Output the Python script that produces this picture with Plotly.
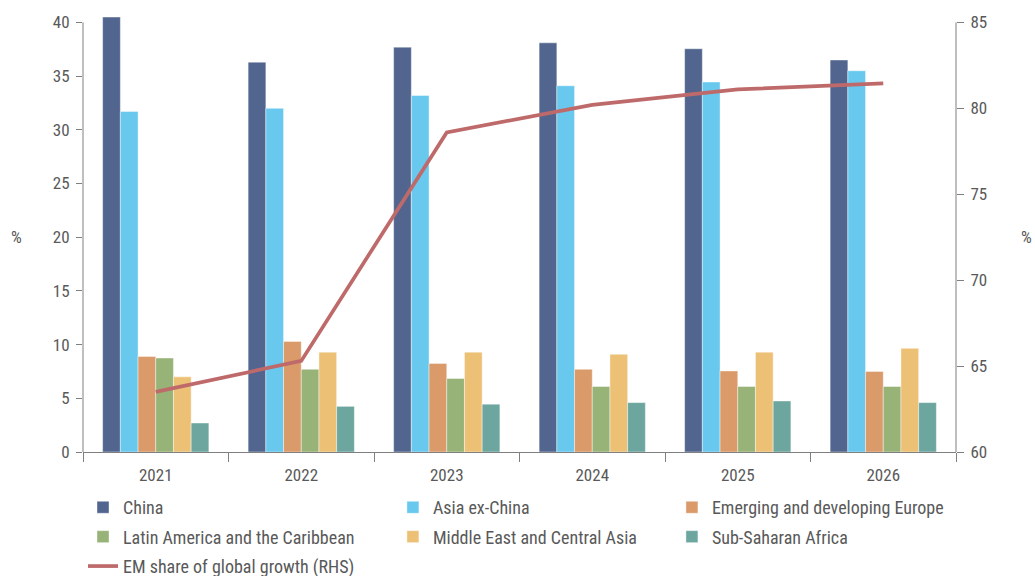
import plotly.graph_objects as go

years = ["2021", "2022", "2023", "2024", "2025", "2026"]
china = [40.5, 36.3, 37.7, 38.1, 37.55, 36.5]
asia_ex_china = [31.7, 32.0, 33.2, 34.1, 34.45, 35.5]
em_europe = [8.9, 10.3, 8.25, 7.7, 7.55, 7.5]
latam = [8.75, 7.7, 6.85, 6.1, 6.1, 6.1]
mideast_casia = [7.0, 9.3, 9.3, 9.1, 9.3, 9.65]
ssa = [2.7, 4.25, 4.45, 4.6, 4.75, 4.6]
em_share = [63.5, 65.3, 78.6, 80.2, 81.1, 81.45]

FONT = "Roboto Condensed, Roboto, sans-serif"
TXT = "#595959"
AX = "#7f7f7f"

bar_series = [
    ("China", china, "#51658f", "legend", 1),
    ("Asia ex-China", asia_ex_china, "#68c8ee", "legend2", 1),
    ("Emerging and developing Europe", em_europe, "#db9a6a", "legend3", 1),
    ("Latin America and the Caribbean", latam, "#98b377", "legend", 2),
    ("Middle East and Central Asia", mideast_casia, "#ecc176", "legend2", 2),
    ("Sub-Saharan Africa", ssa, "#6ca69f", "legend3", 2),
]

fig = go.Figure()
for name, vals, col, leg, rank in bar_series:
    fig.add_trace(go.Bar(
        x=years, y=vals, name=name, legend=leg, legendrank=rank,
        legendgroup=name,
        marker=dict(color=col, line=dict(color="rgba(255,255,255,0.7)", width=0.6)),
        yaxis="y",
    ))

fig.add_trace(go.Scatter(
    x=years, y=em_share, name="EM share of global growth (RHS)",
    mode="lines", line=dict(color="#bf6a6a", width=3.7),
    yaxis="y2", legend="legend", legendrank=3, legendgroup="em",
))

leg_common = dict(
    orientation="v", yanchor="top", xanchor="left",
    font=dict(family=FONT, size=18, color=TXT),
    bgcolor="rgba(0,0,0,0)", tracegroupgap=3, itemwidth=30,
)

fig.update_layout(
    width=1035, height=576,
    margin=dict(l=83, r=79, t=15.5, b=124, autoexpand=False),
    paper_bgcolor="white", plot_bgcolor="white",
    barmode="group", bargap=0.27, bargroupgap=0,
    font=dict(family=FONT, size=17, color=TXT),
    showlegend=True,
    legend=dict(x=0.0, y=-0.085, **leg_common),
    legend2=dict(x=0.355, y=-0.085, **leg_common),
    legend3=dict(x=0.6746, y=-0.085, **leg_common),
    xaxis=dict(
        type="category", showline=True, linecolor=AX, linewidth=1,
        ticks="outside", tickson="boundaries", ticklen=9, tickcolor=AX,
        showgrid=False, ticklabelstandoff=8,
        tickfont=dict(family=FONT, size=17, color=TXT),
    ),
    yaxis=dict(
        range=[0, 40.6], tickvals=[0, 5, 10, 15, 20, 25, 30, 35, 40],
        ticks="outside", ticklen=6, tickcolor=AX, showgrid=False,
        showline=False, zeroline=False, ticklabelstandoff=3,
        tickfont=dict(family=FONT, size=17, color=TXT),
    ),
    yaxis2=dict(
        range=[60, 60 + 25 * 40.6 / 40], tickvals=[60, 65, 70, 75, 80, 85],
        overlaying="y", side="right",
        ticks="outside", ticklen=7, tickcolor=AX, showgrid=False,
        showline=False, zeroline=False, ticklabelstandoff=3,
        tickfont=dict(family=FONT, size=17, color=TXT),
    ),
    shapes=[
        dict(type="line", xref="paper", yref="y", x0=0, x1=0, y0=0, y1=40,
             line=dict(color=AX, width=1)),
        dict(type="line", xref="paper", yref="y", x0=1, x1=1, y0=0, y1=40,
             line=dict(color=AX, width=1)),
    ],
    annotations=[
        dict(text="%", xref="paper", yref="paper", x=-0.0767, y=0.4926,
             xanchor="center", yanchor="middle",
             showarrow=False, font=dict(family=FONT, size=17, color=TXT)),
        dict(text="%", xref="paper", yref="paper", x=1.081, y=0.4926,
             xanchor="center", yanchor="middle",
             showarrow=False, font=dict(family=FONT, size=17, color=TXT)),
    ],
)

fig.write_html("out.html", config={"displayModeBar": False},
               post_script="document.body.style.margin='0';")
